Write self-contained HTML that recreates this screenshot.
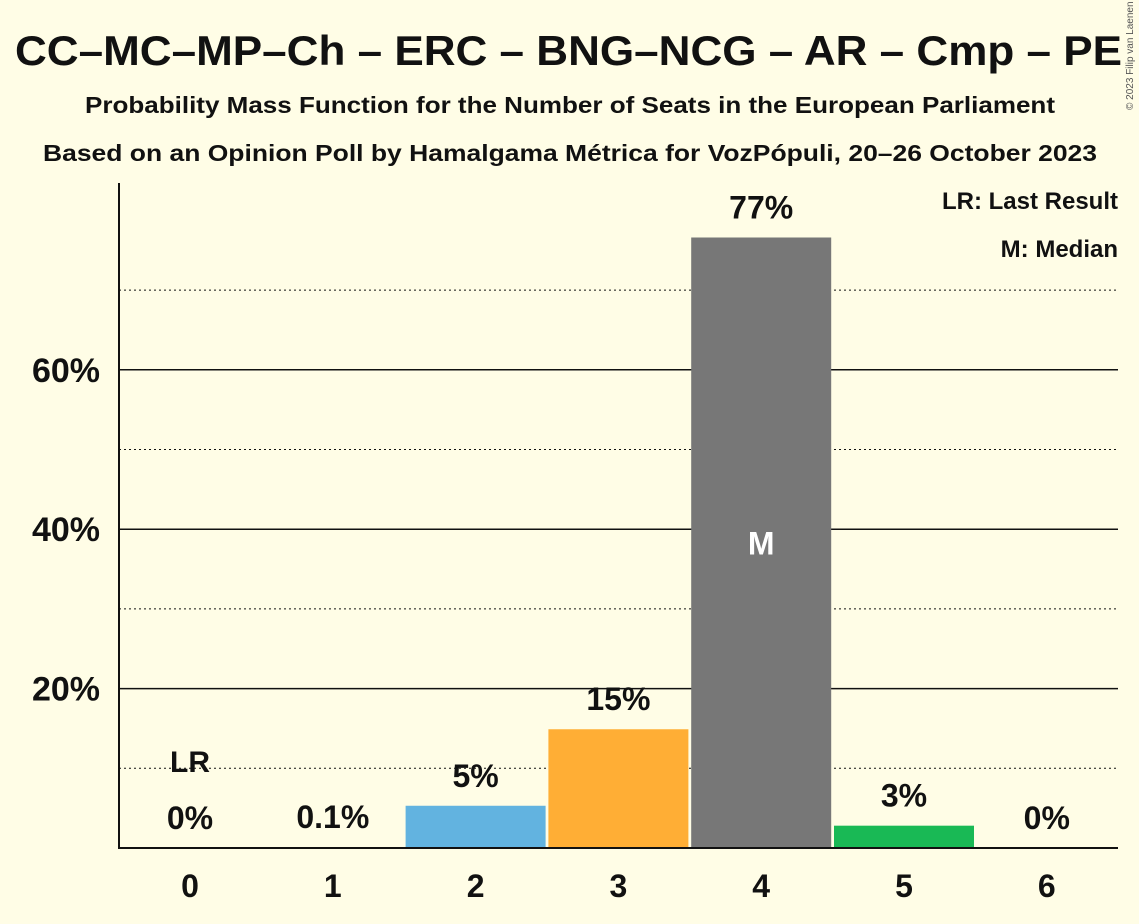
<!DOCTYPE html>
<html><head><meta charset="utf-8"><style>
body{margin:0;background:#fffde6;}
svg{display:block;font-family:"Liberation Sans",sans-serif;}
</style></head><body>
<svg id="chart" width="1139" height="924" viewBox="0 0 1139 924">
<rect width="1139" height="924" fill="#fffde6"/>
<text x="15" y="65" font-size="42" font-weight="bold" fill="#111" textLength="1107" lengthAdjust="spacingAndGlyphs">CC–MC–MP–Ch – ERC – BNG–NCG – AR – Cmp – PE</text>
<text x="85" y="113" font-size="23" font-weight="bold" fill="#111" textLength="970" lengthAdjust="spacingAndGlyphs">Probability Mass Function for the Number of Seats in the European Parliament</text>
<text x="43" y="161" font-size="23" font-weight="bold" fill="#111" textLength="1054" lengthAdjust="spacingAndGlyphs">Based on an Opinion Poll by Hamalgama Métrica for VozPópuli, 20–26 October 2023</text>
<text x="1133" y="110" font-size="10" fill="#555" transform="rotate(-90 1133 110)">© 2023 Filip van Laenen</text>
<text x="1118" y="209" text-anchor="end" font-size="24" font-weight="bold" fill="#111">LR: Last Result</text>
<text x="1118" y="257" text-anchor="end" font-size="24" font-weight="bold" fill="#111">M: Median</text>
<g id="grid"></g><g id="bars"></g><g id="labels"></g>
<line x1="119" y1="183" x2="119" y2="849" stroke="#111" stroke-width="2"/>
<line x1="118" y1="848" x2="1118" y2="848" stroke="#111" stroke-width="2"/>
</svg>
<script>
const categories=[0,1,2,3,4,5,6];
const values=[0,0.1,5.3,14.9,76.6,2.8,0];
const valueLabels=["0%","0.1%","5%","15%","77%","3%","0%"];
const colors=["#777","#777","#62b3e0","#ffae35","#777","#19b955","#777"];
const solidTicks=[20,40,60];
const dottedTicks=[10,30,50,70];
const medianIndex=4, lastResultIndex=0;
const NS="http://www.w3.org/2000/svg";
const y=v=>848-v*7.97;
const x=i=>190+i*142.8;
function mk(t,a,p){const e=document.createElementNS(NS,t);for(const k in a)e.setAttribute(k,a[k]);p.appendChild(e);return e;}
const g=document.getElementById('grid'),b=document.getElementById('bars'),l=document.getElementById('labels');
dottedTicks.forEach(t=>{const e=mk('line',{x1:119,x2:1118,y1:y(t),y2:y(t),stroke:'#111','stroke-width':1,'stroke-dasharray':'2,3'},g);

});
solidTicks.forEach(t=>{const e=mk('line',{x1:119,x2:1118,y1:y(t),y2:y(t),stroke:'#111','stroke-width':1.5},g);


const tx=mk('text',{x:100,y:y(t)+12,'text-anchor':'end','font-size':34,'font-weight':'bold',fill:'#111'},l);tx.textContent=t+'%';

});
categories.forEach((c,i)=>{
 const r=mk('rect',{x:x(i)-70,width:140,y:y(values[i]),height:848-y(values[i]),fill:colors[i]},b);
 
 
 const t=mk('text',{x:x(i),y:y(values[i])-19,'text-anchor':'middle','font-size':32,'font-weight':'bold',fill:'#111'},l);t.textContent=valueLabels[i];
 
 
 const xt=mk('text',{x:x(i),y:897,'text-anchor':'middle','font-size':32,'font-weight':'bold',fill:'#111'},l);xt.textContent=c;
 
 
});
const m=mk('text',{x:x(medianIndex),y:y(values[medianIndex]/2)+12,'text-anchor':'middle','font-size':32,'font-weight':'bold',fill:'#fff'},l);m.textContent='M';


const lr=mk('text',{x:x(lastResultIndex),y:y(values[lastResultIndex])-76,'text-anchor':'middle','font-size':30,'font-weight':'bold',fill:'#111'},l);lr.textContent='LR';


</script>
</body></html>
